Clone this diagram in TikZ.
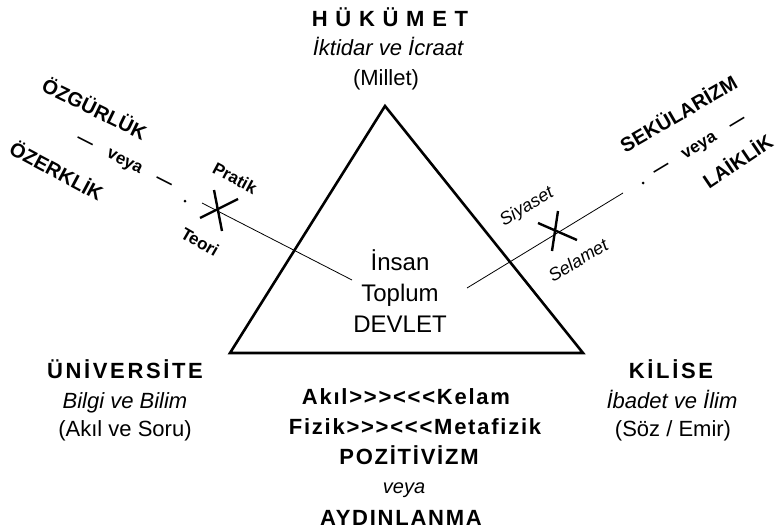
\documentclass[tikz,border=0pt]{standalone}
\usepackage{fontspec}
\setmainfont{Liberation Sans}
\newfontfamily\widefont[LetterSpace=35]{Liberation Sans}
\newfontfamily\headfont[LetterSpace=12]{Liberation Sans}
\newfontfamily\trackfont[LetterSpace=8]{Liberation Sans}
\usetikzlibrary{positioning}

\tikzset{
  lbl/.style={inner sep=0pt, anchor=base},
  head/.style={lbl, font=\headfont\bfseries\fontsize{22}{26}\selectfont},
  body/.style={lbl, font=\fontsize{22}{26}\selectfont},
  bodyit/.style={lbl, font=\itshape\fontsize{22}{26}\selectfont},
  core/.style={lbl, font=\fontsize{24}{29}\selectfont},
  track/.style={lbl, font=\trackfont\bfseries\fontsize{22}{26}\selectfont},
  diag/.style={inner sep=0pt, font=\bfseries\fontsize{20}{24}\selectfont},
  diagsm/.style={inner sep=0pt, font=\bfseries\fontsize{17}{20}\selectfont},
  side/.style={inner sep=0pt, font=\bfseries\fontsize{17}{20}\selectfont},
  sideit/.style={inner sep=0pt, font=\itshape\fontsize{18}{21}\selectfont},
  thinline/.style={line width=0.8pt},
  cross/.style={line width=2.4pt},
}

\begin{document}
\begin{tikzpicture}[x=1pt,y=-1pt]
  \useasboundingbox (0,0) rectangle (779,530);
  % triangle
  \coordinate (apex) at (385,106);
  \coordinate (baseL) at (230,353);
  \coordinate (baseR) at (583,353);
  \draw[line width=2.6pt] (apex) -- (baseL) -- (baseR) -- cycle;

  % top corner
  \node[lbl, font=\widefont\bfseries\fontsize{22}{26}\selectfont] (hukumet) at (390,27) {HÜKÜMET};
  \node[bodyit] (iktidar) at (388,55) {İktidar ve İcraat};
  \node[body] (millet) at (386,85) {(Millet)};

  % inside
  \node[core] (insan) at (400,270) {İnsan};
  \node[core] (toplum) at (400,301) {Toplum};
  \node[core] (devlet) at (400,332) {DEVLET};

  % left line
  \coordinate (lend) at (352,280);
  \coordinate (lstart) at (202,203);
  \draw[thinline] (lstart) -- (lend);
  \fill (185,201) circle (1.5);
  \coordinate (xl) at (218,209);
  \draw[cross] (xl) ++(-4,-19) -- ++(8,41);
  \draw[cross] (xl) ++(-18,9) -- ++(38,-19);
  \node[side, rotate=-28] (pratik) at (235,178) {Pratik};
  \node[side, rotate=-30] (teori) at (200,242) {Teori};
  \node[diag, rotate=-26] (ozgur) at (95,108) {ÖZGÜRLÜK};
  \node[diagsm, rotate=-27] (veyaL) at (124,163) {—\hspace{1em}veya\hspace{1em}—};
  \node[diag, rotate=-28] (ozerk) at (57,170) {ÖZERKLİK};

  % right line
  \coordinate (rstart) at (467,288);
  \coordinate (rend) at (623,193);
  \draw[thinline] (rstart) -- (rend);
  \fill (643,183) circle (1.5);
  \coordinate (xr) at (555,229);
  \draw[cross] (xr) ++(3,-18) -- ++(-6,40);
  \draw[cross] (xr) ++(-17,-6) -- ++(39,17);
  \node[sideit, rotate=31] (siyaset) at (527,207) {Siyaset};
  \node[sideit, rotate=31] (selamet) at (578,260) {Selamet};
  \node[diag, rotate=30] (sekul) at (678,113) {SEKÜLARİZM};
  \node[diagsm, rotate=31] (veyaR) at (700,147) {—\hspace{1em}veya\hspace{1em}—};
  \node[diag, rotate=34] (laik) at (737,160) {LAİKLİK};

  % bottom left
  \node[head] (univ) at (125,378) {ÜNİVERSİTE};
  \node[bodyit] (bilgi) at (125,408) {Bilgi ve Bilim};
  \node[body] (akil) at (125,436) {(Akıl ve Soru)};

  % bottom right
  \node[head] (kilise) at (671,378) {KİLİSE};
  \node[bodyit] (ibadet) at (672,408) {İbadet ve İlim};
  \node[body] (soz) at (673,436) {(Söz / Emir)};

  % bottom centre
  \node[track] (kelam) at (406,404) {Akıl>>><<<Kelam};
  \node[track] (fizik) at (415,434) {Fizik>>><<<Metafizik};
  \node[track] (pozit) at (409,464) {POZİTİVİZM};
  \node[lbl, font=\itshape\fontsize{20}{24}\selectfont] (veyaB) at (404,493) {veya};
  \node[track] (aydin) at (401,525) {AYDINLANMA};
\end{tikzpicture}
\end{document}
